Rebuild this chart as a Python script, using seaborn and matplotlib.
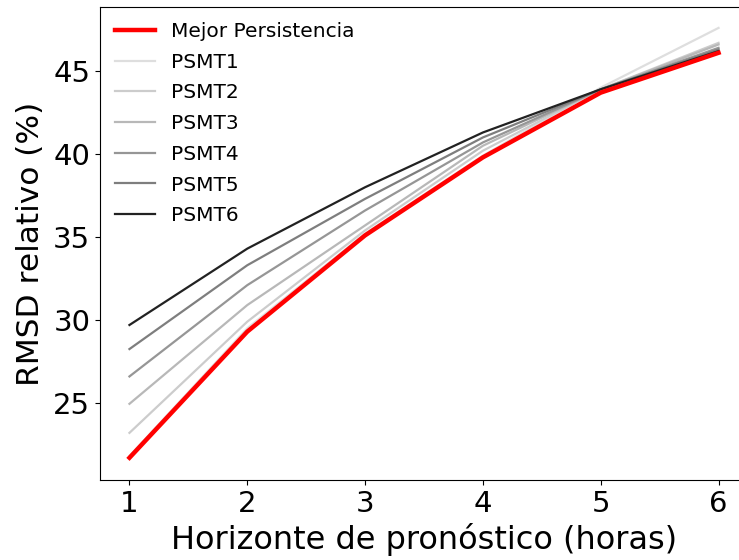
import matplotlib
matplotlib.use('Agg')
import numpy as np
import pandas as pd
import matplotlib.pyplot as plt
import seaborn as sns

horizon = [1, 2, 3, 4, 5, 6]
best_persistence = [21.7, 29.3, 35.1, 39.8, 43.7, 46.1]
psmt1 = [21.8, 29.5, 35.2, 39.9, 44.0, 47.6]
psmt2 = [23.2, 29.9, 35.4, 40.2, 43.9, 46.7]
psmt3 = [24.95, 30.9, 35.7, 40.5, 43.9, 46.6]
psmt4 = [26.6, 32.1, 36.6, 40.7, 43.9, 46.4]
psmt5 = [28.25, 33.3, 37.3, 41.0, 43.9, 46.3]
psmt6 = [29.7, 34.3, 38.0, 41.3, 43.9, 46.2]

series = {'PSMT1': psmt1, 'PSMT2': psmt2, 'PSMT3': psmt3,
          'PSMT4': psmt4, 'PSMT5': psmt5, 'PSMT6': psmt6}
greys = ['#dedede', '#cccccc', '#b8b8b8', '#969696', '#7e7e7e', '#222222']

fig = plt.figure(figsize=(7.39, 5.6), dpi=100)
ax = fig.add_axes([100/739, 80/560, 648/739, 473/560])

sns.lineplot(x=horizon, y=best_persistence, ax=ax, color='red', linewidth=3.2,
             label='Mejor Persistencia', zorder=5)
for (name, vals), col in zip(series.items(), greys):
    sns.lineplot(x=horizon, y=vals, ax=ax, color=col, linewidth=1.6, label=name)

ax.set_xlim(0.75, 6.25)
ax.set_ylim(20.36, 48.86)
ax.set_yticks([25, 30, 35, 40, 45])
ax.set_xticks(horizon)
ax.tick_params(labelsize=21)
ax.set_xlabel('Horizonte de pronóstico (horas)', fontsize=23)
ax.set_ylabel('RMSD relativo (%)', fontsize=22.5, labelpad=6)
ax.legend(loc='upper left', frameon=False, fontsize=14.5, handlelength=2.0,
          labelspacing=0.58, borderaxespad=0.35)

fig.savefig('out.png', dpi=100)
